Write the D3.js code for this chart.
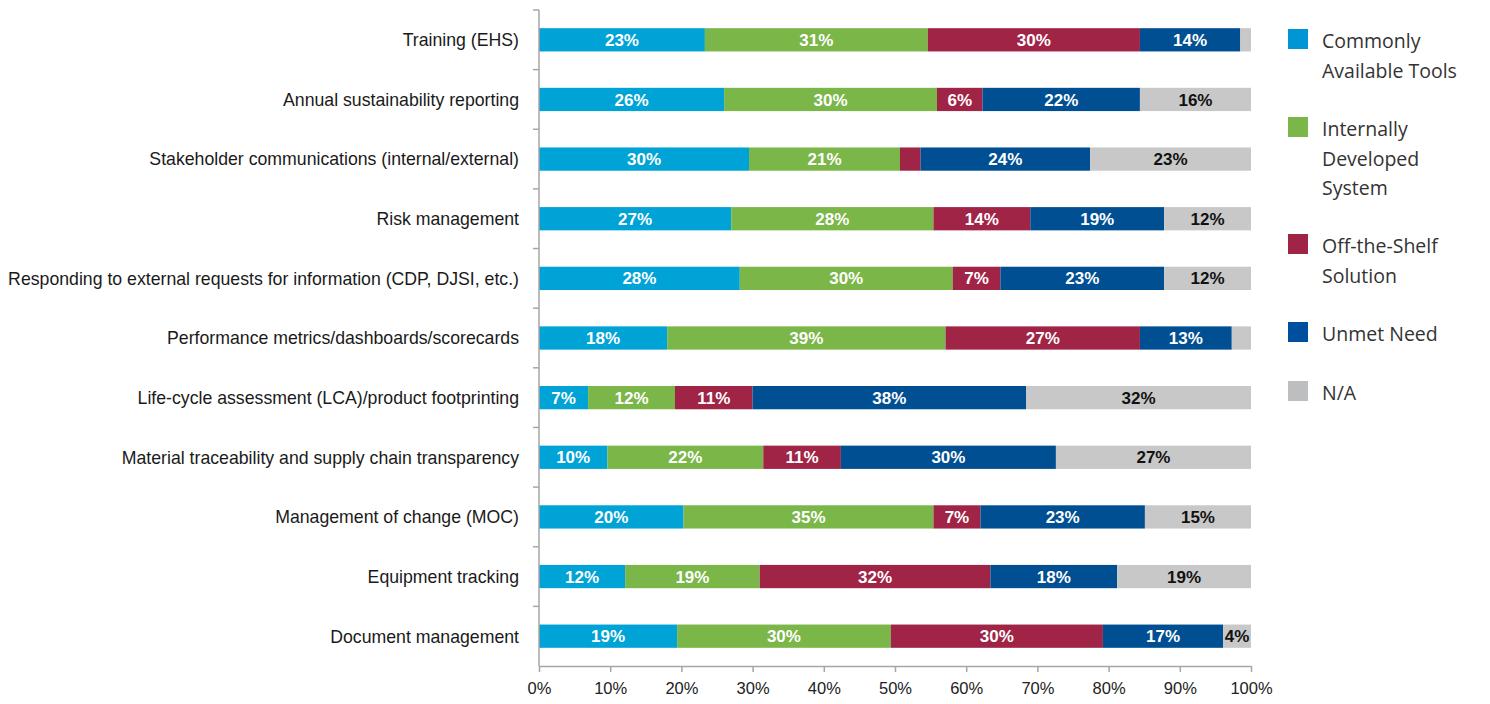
<!DOCTYPE html>
<html>
<head>
<meta charset="utf-8">
<script src="https://cdn.jsdelivr.net/npm/d3@7"></script>
<style>
  body { margin: 0; background: #fff; }
  svg text { font-family: "Liberation Sans", Arial, sans-serif; }
</style>
</head>
<body>
<div id="chart"></div>
<script>
// categories, top to bottom
const categories = [
  "Training (EHS)",
  "Annual sustainability reporting",
  "Stakeholder communications (internal/external)",
  "Risk management",
  "Responding to external requests for information (CDP, DJSI, etc.)",
  "Performance metrics/dashboards/scorecards",
  "Life-cycle assessment (LCA)/product footprinting",
  "Material traceability and supply chain transparency",
  "Management of change (MOC)",
  "Equipment tracking",
  "Document management"
];

const seriesNames = ["Commonly Available Tools", "Internally Developed System", "Off-the-Shelf Solution", "Unmet Need", "N/A"];
const legendLines = [["Commonly", "Available Tools"], ["Internally", "Developed", "System"], ["Off-the-Shelf", "Solution"], ["Unmet Need"], ["N/A"]];

// values in percent
const commonlyAvailable = [23.3, 26.0, 29.5, 27.0, 28.2, 18.0, 6.9, 9.6, 20.3, 12.1, 19.4];
const internallyDeveloped = [31.3, 29.9, 21.2, 28.4, 29.9, 39.1, 12.2, 21.9, 35.1, 18.9, 30.0];
const offTheShelf = [29.8, 6.4, 2.9, 13.6, 6.7, 27.3, 10.9, 10.9, 6.6, 32.4, 29.8];
const unmetNeed = [14.1, 22.1, 23.8, 18.8, 23.0, 12.9, 38.4, 30.2, 23.1, 17.8, 16.9];
const notApplicable = [1.5, 15.6, 22.6, 12.2, 12.2, 2.7, 31.6, 27.4, 14.9, 18.8, 3.9];

const xTicks = [0, 10, 20, 30, 40, 50, 60, 70, 80, 90, 100];

const colors = ["#00a3d6", "#7ab648", "#a02446", "#004f93", "#c8c8c8"];
const legendColors = ["#0096d6", "#7ab648", "#a02446", "#004f9e", "#bcbec0"];
const labelColors = ["#fff", "#fff", "#fff", "#fff", "#111"];

const allSeries = [commonlyAvailable, internallyDeveloped, offTheShelf, unmetNeed, notApplicable];

// build table for d3.stack
const table = categories.map((c, i) => {
  const row = {category: c};
  seriesNames.forEach((s, j) => { row[s] = allSeries[j][i]; });
  return row;
});

const svg = d3.select("#chart").append("svg")
    .attr("width", 1490)
    .attr("height", 704);

const margin = {top: 10, left: 539, right: 239, bottom: 38};
const width = 1490 - margin.left - margin.right,
      height = 704 - margin.top - margin.bottom;

const g = svg.append("g").attr("transform", "translate(" + margin.left + "," + margin.top + ")");

const x = d3.scaleLinear().domain([0, 100]).range([0, width]);
const y = d3.scaleBand().domain(categories).range([0, height]).paddingInner(0.61).paddingOuter(0.305);

const stacked = d3.stack().keys(seriesNames)(table);

// bars
const layers = g.selectAll("g.layer")
  .data(stacked)
  .join("g")
    .attr("class", "layer")
    .attr("fill", (d, i) => colors[i]);

layers.selectAll("rect")
  .data(d => d)
  .join("rect")
    .attr("x", d => x(d[0]))
    .attr("y", d => y(d.data.category))
    .attr("width", d => x(d[1]) - x(d[0]))
    .attr("height", y.bandwidth());

// value labels
layers.each(function(layer, i) {
  d3.select(this).selectAll("text")
    .data(layer.filter(d => d[1] - d[0] >= 3.5))
    .join("text")
      .attr("x", d => (x(d[0]) + x(d[1])) / 2)
      .attr("y", d => y(d.data.category) + y.bandwidth() / 2)
      .attr("dy", "0.36em")
      .attr("text-anchor", "middle")
      .attr("fill", labelColors[i])
      .style("font-size", "17px")
      .style("font-weight", "bold")
      .text(d => Math.round(d[1] - d[0]) + "%");
});

// x axis
const xAxis = g.append("g")
    .attr("transform", "translate(0," + height + ")")
    .call(d3.axisBottom(x).tickValues(xTicks).tickFormat(d => d + "%").tickSize(6).tickSizeOuter(0));
xAxis.select(".domain").attr("stroke", "#a6a6a6").attr("stroke-width", 1.5);
xAxis.selectAll(".tick line").attr("stroke", "#a6a6a6").attr("stroke-width", 1.5);
xAxis.selectAll(".tick text")
    .attr("y", 16)
    .attr("fill", "#222")
    .style("font-size", "16.5px");

// y axis: ticks at band boundaries
const yAxis = g.append("g");
yAxis.append("line")
    .attr("x1", 0).attr("x2", 0)
    .attr("y1", 0).attr("y2", height)
    .attr("stroke", "#a6a6a6")
    .attr("stroke-width", 1.5);
yAxis.selectAll("line.tick")
  .data(categories)
  .join("line")
    .attr("class", "tick")
    .attr("x1", -6).attr("x2", 0)
    .attr("y1", d => y(d) - y.step() * y.paddingInner() / 2)
    .attr("y2", d => y(d) - y.step() * y.paddingInner() / 2)
    .attr("stroke", "#a6a6a6")
    .attr("stroke-width", 1.5);
yAxis.selectAll("text")
  .data(categories)
  .join("text")
    .attr("x", -20)
    .attr("y", d => y(d) + y.bandwidth() / 2)
    .attr("dy", "0.36em")
    .attr("text-anchor", "end")
    .attr("fill", "#1a1a1a")
    .style("font-size", "17.7px")
    .text(d => d);

// legend
const legendY = [39, 127, 244, 332, 391];
const legend = svg.append("g").attr("transform", "translate(1288,0)");
const items = legend.selectAll("g")
  .data(seriesNames)
  .join("g")
    .attr("transform", (d, i) => "translate(0," + legendY[i] + ")");
items.append("rect")
    .attr("x", 0).attr("y", -10)
    .attr("width", 20).attr("height", 20)
    .attr("fill", (d, i) => legendColors[i]);
items.append("text")
    .attr("x", 34)
    .attr("fill", "#333")
    .style("font-family", "'Open Sans', sans-serif")
    .style("font-size", "19.5px")
    .selectAll("tspan")
    .data((d, i) => legendLines[i])
    .join("tspan")
      .attr("x", 34)
      .attr("y", (d, k) => 2 + k * 29.5)
      .attr("dy", "0.36em")
      .text(d => d);
</script>
</body>
</html>
